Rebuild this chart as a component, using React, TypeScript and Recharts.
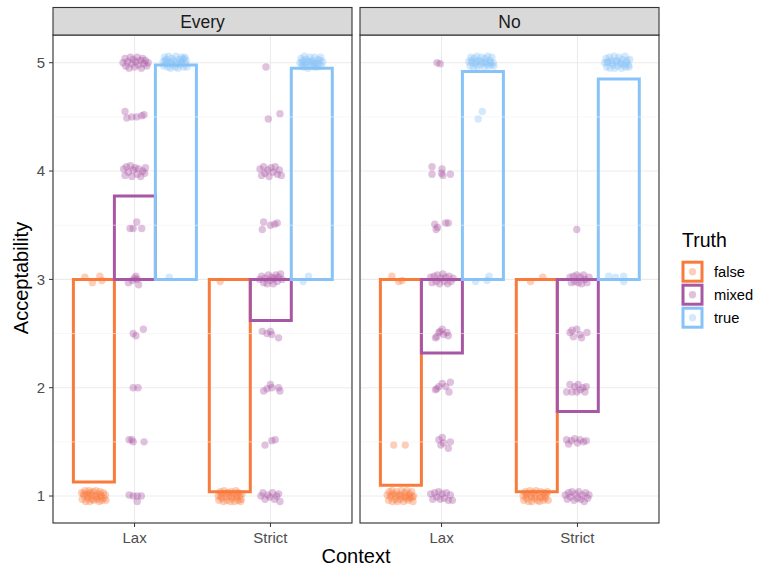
import React from 'react';
import { ComposedChart, Bar, Scatter, XAxis, YAxis, CartesianGrid, ReferenceLine } from 'recharts';

const FONT = '"Liberation Sans", Arial, sans-serif';

const contexts = ['Lax', 'Strict'];
const truths = ['false', 'mixed', 'true'];
const truthColors: Record<string, string> = { false: '#F97B3C', mixed: '#A857A4', true: '#87C3F8' };
const dodge: Record<string, number> = { false: -0.3, mixed: 0, true: 0.3 };

// mean acceptability per context (Lax, Strict)
const everyFalse = [1.13, 1.04];
const everyMixed = [3.77, 2.62];
const everyTrue = [4.98, 4.95];
const noFalse = [1.1, 1.04];
const noMixed = [2.32, 1.78];
const noTrue = [4.92, 4.85];

const yTicks = [1, 2, 3, 4, 5];
const yMinor = [1.5, 2.5, 3.5, 4.5];

// raw ratings: [jitter, rating]
const everyLaxFalse = [
  [-0.065, 3.02], [-0.01, 2.97], [0.045, 3.03], [0.06, 2.99],
  [-0.09, 1.03], [-0.085, 0.97], [-0.07, 1.0], [-0.065, 1.05], [-0.06, 0.95], [-0.05, 1.02], [-0.045, 0.98],
  [-0.035, 1.05], [-0.03, 0.95], [-0.02, 1.01], [-0.015, 0.97], [-0.005, 1.04], [0, 0.96], [0.01, 1.0],
  [0.015, 1.05], [0.025, 0.97], [0.03, 1.02], [0.04, 0.95], [0.045, 1.04], [0.055, 0.99], [0.06, 0.96],
  [0.07, 1.03], [0.075, 0.98], [0.085, 1.01], [0.09, 0.96], [-0.075, 1.02], [-0.04, 1.0], [0.02, 0.99],
  [0.05, 1.01], [-0.025, 1.03],
];
const everyLaxMixed = [
  [-0.085, 5.0], [-0.07, 5.04], [-0.065, 4.97], [-0.05, 5.01], [-0.04, 4.95], [-0.03, 5.05], [-0.02, 4.99],
  [-0.01, 5.03], [0, 4.96], [0.01, 5.01], [0.02, 5.05], [0.03, 4.98], [0.045, 5.02], [0.05, 4.95], [0.06, 5.04],
  [0.07, 4.99], [0.08, 5.02], [0.09, 4.97], [0.1, 5.0],
  [-0.07, 4.55], [-0.057, 4.49], [-0.02, 4.5], [0.016, 4.5], [0.053, 4.51], [0.07, 4.52],
  [-0.08, 4.02], [-0.07, 3.96], [-0.06, 4.04], [-0.045, 3.99], [-0.03, 4.05], [-0.02, 3.95], [-0.01, 4.01],
  [0.005, 4.03], [0.02, 3.97], [0.03, 4.02], [0.045, 3.95], [0.06, 4.0], [0.075, 3.98], [0.08, 4.03],
  [-0.033, 3.47], [0.016, 3.53], [0.053, 3.47], [-0.01, 3.47],
  [-0.045, 2.97], [0.01, 3.03], [0.02, 3.0], [0.03, 2.95], [0.0, 3.01], [-0.015, 2.99],
  [-0.01, 2.5], [0.01, 2.48], [0.065, 2.54],
  [-0.01, 2.0], [0.026, 2.0],
  [-0.04, 1.52], [-0.02, 1.52], [-0.01, 1.5], [0.07, 1.5],
  [-0.04, 1.01], [-0.01, 1.0], [0.02, 1.0], [0.05, 1.0], [0.02, 0.95],
];
const everyLaxTrue = [
  [-0.09, 5.01], [-0.085, 4.97], [-0.08, 5.05], [-0.07, 4.99], [-0.065, 5.03], [-0.055, 4.96], [-0.05, 5.06],
  [-0.04, 5.0], [-0.035, 4.95], [-0.025, 5.04], [-0.02, 4.98], [-0.01, 5.02], [0, 4.96], [0.005, 5.06],
  [0.015, 5.0], [0.02, 4.95], [0.03, 5.03], [0.035, 4.98], [0.045, 5.05], [0.05, 5.0], [0.06, 4.96],
  [0.065, 5.04], [0.075, 4.99], [0.08, 5.02], [0.085, 4.96], [-0.06, 5.0], [-0.03, 5.01], [0.01, 4.99],
  [0.04, 5.01], [0.07, 5.05], [-0.075, 5.02], [0.055, 5.03],
  [-0.045, 3.02],
];
const everyStrictFalse = [
  [-0.07, 2.98],
  [-0.085, 1.0], [-0.08, 0.96], [-0.07, 1.04], [-0.06, 0.98], [-0.055, 1.02], [-0.045, 0.95], [-0.04, 1.05],
  [-0.03, 0.99], [-0.02, 0.96], [-0.015, 1.03], [-0.005, 1.0], [0.005, 0.95], [0.01, 1.04], [0.02, 0.98],
  [0.03, 1.02], [0.035, 0.95], [0.045, 1.05], [0.05, 0.99], [0.06, 0.96], [0.065, 1.03], [0.075, 1.0],
  [0.08, 0.95], [0.09, 1.02], [-0.065, 1.0], [-0.025, 1.02], [0.015, 1.0], [0.055, 1.01], [0.085, 0.97],
];
const everyStrictMixed = [
  [-0.033, 4.96],
  [-0.016, 4.48], [0.07, 4.53],
  [-0.077, 4.02], [-0.065, 3.96], [-0.05, 4.04], [-0.04, 3.98], [-0.02, 4.01], [-0.01, 3.95], [0.005, 4.03],
  [0.02, 3.99], [0.035, 4.04], [0.05, 3.97], [0.065, 4.01], [0.08, 3.96],
  [-0.05, 3.53], [-0.06, 3.46], [0.03, 3.51], [0.05, 3.52], [0.0, 3.5],
  [-0.08, 3.0], [-0.065, 3.03], [-0.05, 2.97], [-0.04, 3.01], [-0.025, 2.96], [-0.015, 3.04], [0.0, 2.99],
  [0.01, 3.02], [0.02, 2.96], [0.03, 3.01], [0.04, 3.04], [0.05, 2.98], [0.06, 3.02], [0.075, 3.05], [0.085, 3.0],
  [-0.06, 2.52], [0.0, 2.52], [0.01, 2.49], [0.06, 2.46], [-0.025, 2.5],
  [-0.05, 1.97], [0.0, 2.03], [0.01, 2.0], [0.07, 1.97], [0.06, 2.0], [-0.025, 1.99],
  [-0.04, 1.47], [0.01, 1.51], [0.035, 1.52],
  [-0.07, 1.0], [-0.055, 1.03], [-0.04, 0.97], [-0.02, 1.01], [-0.005, 0.99], [0.015, 1.03], [0.03, 0.97],
  [0.045, 1.0], [0.06, 1.02], [0.07, 0.95],
];
const everyStrictTrue = [
  [-0.083, 5.0], [-0.075, 5.04], [-0.07, 4.97], [-0.06, 5.02], [-0.05, 5.06], [-0.045, 4.98], [-0.035, 5.03],
  [-0.025, 4.95], [-0.02, 5.01], [-0.01, 5.05], [0, 4.98], [0.01, 5.02], [0.02, 4.96], [0.025, 5.05],
  [0.035, 5.0], [0.045, 4.96], [0.05, 5.03], [0.06, 4.99], [0.07, 5.05], [0.075, 4.97], [0.085, 5.01],
  [-0.065, 5.0], [-0.04, 5.0], [-0.005, 5.01], [0.03, 4.99], [0.065, 5.02], [0.015, 4.99], [-0.055, 4.96],
  [-0.06, 2.98], [-0.02, 3.03],
];
const noLaxFalse = [
  [-0.065, 3.03], [-0.015, 2.98], [0.01, 2.99], [-0.052, 1.47], [0.033, 1.47],
  [-0.1, 1.01], [-0.09, 0.96], [-0.085, 1.04], [-0.075, 0.99], [-0.065, 1.05], [-0.06, 0.95], [-0.05, 1.02],
  [-0.04, 0.97], [-0.03, 1.04], [-0.025, 0.95], [-0.015, 1.01], [-0.005, 0.97], [0.005, 1.05], [0.01, 0.99],
  [0.02, 0.95], [0.03, 1.03], [0.04, 0.98], [0.045, 1.05], [0.055, 0.96], [0.065, 1.02], [0.07, 0.98],
  [0.08, 1.04], [0.09, 0.95], [0.095, 1.0], [-0.07, 1.01], [-0.035, 1.0], [0.0, 1.01], [0.035, 1.0],
  [0.06, 1.0], [0.085, 0.99],
];
const noLaxMixed = [
  [-0.033, 5.0], [-0.01, 4.99],
  [-0.07, 4.04], [0.004, 4.02], [0.0, 3.98], [-0.07, 3.97], [0.065, 3.97], [0.01, 3.96],
  [-0.05, 3.51], [-0.03, 3.48], [0.03, 3.52], [0.05, 3.52], [-0.04, 3.46],
  [-0.08, 3.02], [-0.07, 2.97], [-0.055, 3.03], [-0.04, 2.98], [-0.03, 3.04], [-0.015, 2.96], [-0.005, 3.01],
  [0.01, 3.05], [0.02, 2.98], [0.03, 3.02], [0.045, 2.96], [0.055, 3.03], [0.07, 2.98], [0.085, 3.01],
  [-0.045, 2.46], [-0.02, 2.51], [0.005, 2.54], [0.04, 2.51], [0.015, 2.49], [0.05, 2.48], [-0.035, 2.47], [-0.01, 2.52],
  [-0.045, 1.98], [-0.02, 2.01], [0.005, 2.04], [0.055, 1.96], [0.065, 2.05], [-0.035, 1.99], [0.03, 2.01],
  [-0.02, 1.52], [0.005, 1.54], [0.015, 1.49], [0.05, 1.44], [0.065, 1.5], [-0.005, 1.47],
  [-0.08, 1.02], [-0.065, 0.97], [-0.05, 1.03], [-0.035, 0.99], [-0.02, 1.04], [-0.01, 0.97], [0.005, 1.02],
  [0.02, 0.98], [0.035, 1.03], [0.05, 0.96], [0.065, 1.01], [0.08, 0.96],
];
const noLaxTrue = [
  [-0.1, 5.01], [-0.09, 4.97], [-0.085, 5.05], [-0.075, 5.0], [-0.065, 4.96], [-0.06, 5.04], [-0.05, 4.99],
  [-0.04, 5.06], [-0.035, 4.96], [-0.025, 5.02], [-0.015, 4.98], [-0.005, 5.05], [0.005, 5.0], [0.015, 4.96],
  [0.02, 5.04], [0.03, 4.99], [0.04, 5.06], [0.045, 4.97], [0.055, 5.02], [0.065, 4.98], [0.07, 5.05],
  [0.08, 5.0], [0.085, 4.97], [-0.08, 5.02], [-0.045, 5.01], [-0.01, 5.01], [0.025, 5.01], [0.06, 5.0],
  [0.0, 4.55], [-0.03, 4.48], [-0.05, 2.98], [0.035, 2.99], [0.05, 3.03],
];
const noStrictFalse = [
  [-0.045, 2.98], [0.045, 3.02],
  [-0.1, 1.0], [-0.095, 0.96], [-0.085, 1.04], [-0.075, 0.98], [-0.07, 1.02], [-0.06, 0.95], [-0.05, 1.05],
  [-0.04, 0.99], [-0.035, 0.95], [-0.025, 1.03], [-0.015, 0.98], [-0.005, 1.05], [0.005, 0.96], [0.015, 1.02],
  [0.02, 0.95], [0.03, 1.04], [0.04, 0.99], [0.05, 0.96], [0.055, 1.03], [0.065, 0.98], [0.075, 1.02],
  [0.085, 0.96], [-0.08, 1.01], [-0.045, 1.01], [-0.01, 1.0], [0.025, 0.99], [0.06, 1.0], [0.08, 1.04],
];
const noStrictMixed = [
  [-0.005, 3.46],
  [-0.055, 3.02], [-0.045, 2.97], [-0.03, 3.03], [-0.02, 2.98], [-0.005, 3.04], [0.005, 2.97], [0.02, 3.02],
  [0.03, 2.96], [0.045, 3.04], [0.055, 3.0], [0.07, 2.97], [0.085, 3.02],
  [-0.055, 2.51], [-0.03, 2.47], [-0.04, 2.53], [0.02, 2.49], [0.07, 2.51], [0.03, 2.46], [-0.005, 2.54],
  [-0.08, 1.96], [-0.055, 2.03], [-0.02, 2.01], [0.005, 2.03], [0.04, 2.0], [0.065, 2.01], [0.055, 1.96],
  [-0.04, 1.96], [0.02, 1.98], [-0.005, 1.96],
  [-0.08, 1.52], [-0.065, 1.48], [-0.045, 1.51], [-0.02, 1.53], [0.0, 1.49], [0.02, 1.52], [0.045, 1.5], [0.065, 1.51],
  [-0.09, 1.01], [-0.075, 0.97], [-0.065, 1.03], [-0.05, 0.99], [-0.04, 1.04], [-0.025, 0.96], [-0.015, 1.02],
  [0.0, 0.98], [0.01, 1.04], [0.025, 0.97], [0.035, 1.01], [0.05, 0.95], [0.06, 1.03], [0.075, 0.98], [0.085, 1.01],
];
const noStrictTrue = [
  [-0.1, 5.0], [-0.09, 5.04], [-0.085, 4.96], [-0.075, 5.01], [-0.065, 5.05], [-0.06, 4.95], [-0.05, 5.02],
  [-0.04, 4.98], [-0.03, 5.06], [-0.025, 4.95], [-0.015, 5.01], [-0.005, 4.97], [0.005, 5.05], [0.015, 4.99],
  [0.025, 4.95], [0.03, 5.03], [0.04, 4.98], [0.05, 5.06], [0.055, 4.96], [0.065, 5.02], [0.075, 4.98],
  [0.085, 5.03], [-0.08, 5.0], [-0.045, 5.0], [-0.01, 5.02], [0.02, 5.0], [0.06, 5.0], [0.08, 4.96],
  [-0.07, 3.03], [-0.02, 3.02], [0.04, 3.03], [0.04, 2.98],
];

type Pts = number[][];

const span = (v: number) => (v < 3 ? [v, 3] : [3, v]);

function barRows(f: number[], m: number[], t: number[]) {
  return contexts.map((c, i) => ({ ctx: c, false: span(f[i]), mixed: span(m[i]), true: span(t[i]) }));
}

function scatterRows(byCtx: Record<string, Pts>, truth: string) {
  return contexts.flatMap((c, i) =>
    byCtx[c].map(([j, y]) => ({ x: i + 1 + dodge[truth] + j, y }))
  );
}

const PLOT_H = 488;
const X_AXIS_H = 30;
const PANEL_W = 299;
const Y_AXIS_W = 45;
const DOT_R = 3.7;
const DOT_ALPHA = 0.36;
const tickStyle = { fill: '#4D4D4D', fontSize: 15, fontFamily: FONT };

function makeDot(color: string) {
  return (props: any) => (
    <circle cx={props.cx} cy={props.cy} r={DOT_R} fill={color} fillOpacity={DOT_ALPHA} stroke="none" />
  );
}

interface PanelProps {
  bars: any[];
  points: Record<string, Record<string, Pts>>;
  showY: boolean;
}

function Panel({ bars, points, showY }: PanelProps) {
  const width = PANEL_W + (showY ? Y_AXIS_W : 0);
  return (
    <ComposedChart
      width={width}
      height={PLOT_H + X_AXIS_H}
      data={bars}
      margin={{ top: 0, right: 0, bottom: 0, left: 0 }}
      barCategoryGap="5%"
      barGap={0}
    >
      <CartesianGrid stroke="#EBEBEB" strokeWidth={1.1} />
      {yMinor.map((v) => (
        <ReferenceLine key={v} y={v} stroke="#F2F2F2" strokeWidth={0.6} />
      ))}
      <XAxis
        dataKey="ctx"
        type="category"
        height={X_AXIS_H}
        padding={{ left: 13.6, right: 13.6 }}
        axisLine={false}
        tickLine={{ stroke: '#333333' }}
        tickSize={4}
        tickMargin={5}
        fontSize={15}
        tick={tickStyle}
      />
      <XAxis xAxisId="pts" dataKey="x" type="number" domain={[0.4, 2.6]} hide allowDataOverflow />
      <YAxis
        type="number"
        domain={[0.751, 5.256]}
        ticks={yTicks}
        allowDataOverflow
        hide={!showY}
        width={Y_AXIS_W}
        axisLine={false}
        tickLine={{ stroke: '#333333' }}
        tickSize={4}
        tickMargin={4}
        fontSize={15}
        tick={tickStyle}
      />
      {truths.map((t) => (
        <Scatter
          key={'s' + t}
          xAxisId="pts"
          data={scatterRows(points[t], t)}
          dataKey="y"
          shape={makeDot(truthColors[t])}
          isAnimationActive={false}
        />
      ))}
      {truths.map((t) => (
        <Bar
          key={'b' + t}
          dataKey={t}
          fill="none"
          stroke={truthColors[t]}
          strokeWidth={3}
          isAnimationActive={false}
        />
      ))}
    </ComposedChart>
  );
}

const everyPoints = {
  false: { Lax: everyLaxFalse, Strict: everyStrictFalse },
  mixed: { Lax: everyLaxMixed, Strict: everyStrictMixed },
  true: { Lax: everyLaxTrue, Strict: everyStrictTrue },
};
const noPoints = {
  false: { Lax: noLaxFalse, Strict: noStrictFalse },
  mixed: { Lax: noLaxMixed, Strict: noStrictMixed },
  true: { Lax: noLaxTrue, Strict: noStrictTrue },
};

const facets = [
  { name: 'Every', left: 53 },
  { name: 'No', left: 360 },
];

export default function App() {
  const top = 35;
  return (
    <div style={{ position: 'absolute', left: 0, top: 0, width: 761, height: 570, background: '#fff' }}>
      <div style={{ position: 'absolute', left: 53 - Y_AXIS_W, top }}>
        <Panel bars={barRows(everyFalse, everyMixed, everyTrue)} points={everyPoints} showY />
      </div>
      <div style={{ position: 'absolute', left: 360, top }}>
        <Panel bars={barRows(noFalse, noMixed, noTrue)} points={noPoints} showY={false} />
      </div>
      <svg
        width={761}
        height={570}
        style={{ position: 'absolute', left: 0, top: 0, pointerEvents: 'none' }}
        fontFamily={FONT}
      >
        {facets.map((f) => (
          <g key={f.name}>
            <rect x={f.left} y={top} width={PANEL_W} height={PLOT_H} fill="none" stroke="#333333" strokeWidth={1.1} />
            <rect x={f.left} y={7.5} width={PANEL_W} height={top - 7.5} fill="#D9D9D9" stroke="#333333" strokeWidth={1.1} />
            <text x={f.left + PANEL_W / 2} y={28.3} textAnchor="middle" fontSize={17.5} fill="#1A1A1A">
              {f.name}
            </text>
          </g>
        ))}
        <text x={28} y={278} transform="rotate(-90, 28, 278)" textAnchor="middle" fontSize={20} fill="#000">
          Acceptability
        </text>
        <text x={356} y={563} textAnchor="middle" fontSize={20} fill="#000">
          Context
        </text>
        <text x={682} y={246.7} fontSize={19.5} fill="#000">
          Truth
        </text>
        {truths.map((t, i) => {
          const cy = 271.7 + i * 23;
          return (
            <g key={t}>
              <rect x={683} y={cy - 9.5} width={19} height={19} fill="#fff" stroke={truthColors[t]} strokeWidth={3} />
              <circle cx={692.5} cy={cy} r={DOT_R} fill={truthColors[t]} fillOpacity={DOT_ALPHA} />
              <text x={714} y={cy} dominantBaseline="central" fontSize={14.7} fill="#000">
                {t}
              </text>
            </g>
          );
        })}
      </svg>
    </div>
  );
}
